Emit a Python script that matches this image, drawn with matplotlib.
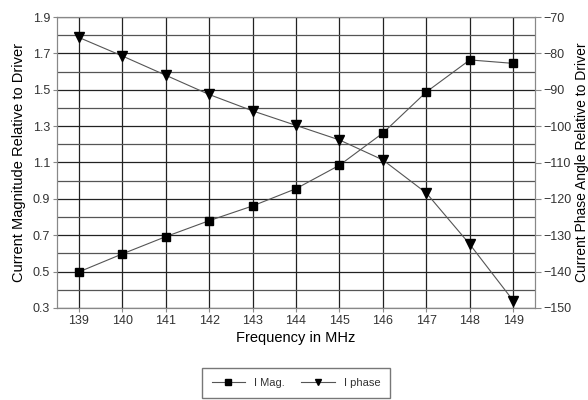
import matplotlib
matplotlib.use("Agg")
import matplotlib.pyplot as plt

plt.rcParams['font.family'] = ['Liberation Sans', 'DejaVu Sans']

# data
freq = [139, 140, 141, 142, 143, 144, 145, 146, 147, 148, 149]
i_mag = [0.498, 0.597, 0.692, 0.78, 0.861, 0.956, 1.085, 1.262, 1.488, 1.664, 1.645]
i_phase = [-75.6, -80.7, -86.0, -91.3, -95.8, -99.8, -103.8, -109.3, -118.4, -132.5, -148.0]
mag_ticks = [0.3, 0.5, 0.7, 0.9, 1.1, 1.3, 1.5, 1.7, 1.9]
mag_minor = [0.4, 0.6, 0.8, 1.0, 1.2, 1.4, 1.6, 1.8]
phase_ticks = [-150, -140, -130, -120, -110, -100, -90, -80, -70]

fig = plt.figure(figsize=(5.88, 4.0), dpi=100)
ax = fig.add_axes([57/588, 1 - 308/400, (535-57)/588, (308-17)/400])
ax2 = ax.twinx()

# grid: major dark, minor gray
ax.set_xlim(138.5, 149.5)
ax.set_ylim(0.3, 1.9)
ax.set_xticks(freq)
ax.set_yticks(mag_ticks)
ax.set_yticklabels([f"{v:.1f}" for v in mag_ticks])
ax.set_yticks(mag_minor, minor=True)
ax.grid(True, which='major', color='#222222', linewidth=0.9)
ax.grid(True, which='minor', axis='y', color='#555555', linewidth=0.9)
ax.set_axisbelow(True)
ax.tick_params(which='minor', length=0)
ax.tick_params(which='major', length=3, color='#888888', labelsize=9, labelcolor='#333333', pad=2)

ax2.set_ylim(-150, -70)
ax2.set_yticks(phase_ticks)
ax2.tick_params(length=4, color='#888888', labelsize=9, labelcolor='#333333', pad=2)

for a in (ax, ax2):
    for s in a.spines.values():
        s.set_color('#888888')

l1, = ax.plot(freq, i_mag, color='#555555', linewidth=0.8, marker='s', markersize=6,
              markerfacecolor='black', markeredgecolor='black', label='I Mag.')
l2, = ax2.plot(freq, i_phase, color='#555555', linewidth=0.8, marker='v', markersize=7,
               markerfacecolor='black', markeredgecolor='black', label='I phase')

ax.set_xlabel('Frequency in MHz', fontsize=10.5, labelpad=3)
ax.set_ylabel('Current Magnitude Relative to Driver', fontsize=10.5, labelpad=5)
ax2.set_ylabel('Current Phase Angle Relative to Driver', fontsize=10, rotation=90)
ax2.yaxis.set_label_coords(1.083, 0.5)

leg = fig.legend(handles=[l1, l2], loc='center', bbox_to_anchor=(296/588, 1 - 383/400),
                 ncol=2, fontsize=8, frameon=True, fancybox=False, edgecolor='#555555',
                 handlelength=3, columnspacing=1.5, borderpad=0.9, markerscale=0.7)
for t in leg.get_texts():
    t.set_color('#333333')

fig.savefig('out.png', dpi=100)
